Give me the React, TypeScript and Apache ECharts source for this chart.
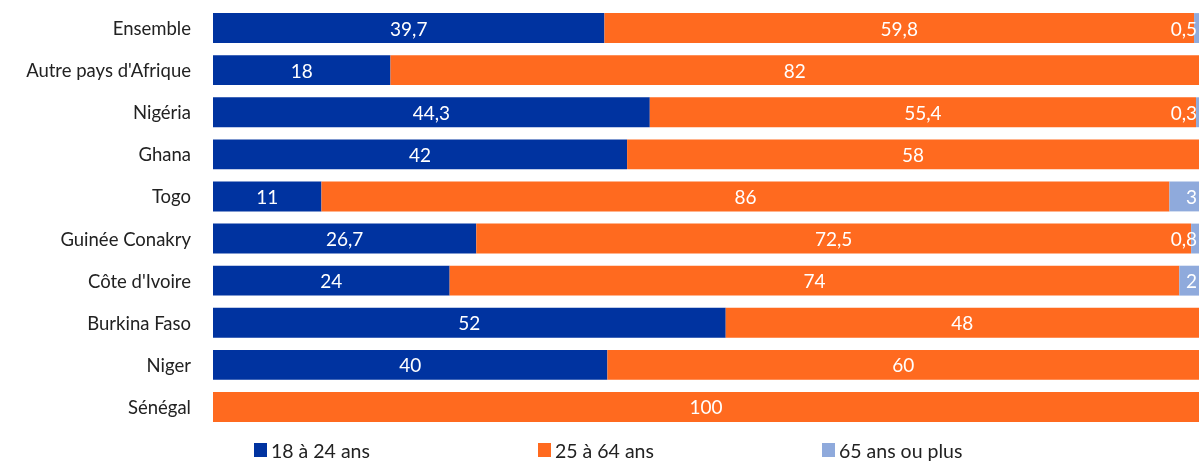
import React, { useEffect, useRef } from "react";
import * as echarts from "echarts";

const categories = [
  "Ensemble",
  "Autre pays d'Afrique",
  "Nigéria",
  "Ghana",
  "Togo",
  "Guinée Conakry",
  "Côte d'Ivoire",
  "Burkina Faso",
  "Niger",
  "Sénégal",
];
const age18to24 = [39.7, 18, 44.3, 42, 11, 26.7, 24, 52, 40, 0];
const age25to64 = [59.8, 82, 55.4, 58, 86, 72.5, 74, 48, 60, 100];
const age65plus = [0.5, 0, 0.3, 0, 3, 0.8, 2, 0, 0, 0];
const seriesNames = ["18 à 24 ans", "25 à 64 ans", "65 ans ou plus"];
const colors = ["#0033a0", "#ff6a1f", "#8faadc"];

const FONT = "Lato, 'Open Sans', sans-serif";

const fmt = (p: any) => (p.value ? String(p.value).replace(".", ",") : "");

export default function App() {
  const ref = useRef<HTMLDivElement>(null);
  useEffect(() => {
    if (!ref.current) return;
    const chart = echarts.init(ref.current, null, { renderer: "svg" });
    const label = {
      show: true,
      color: "#fff",
      fontSize: 19,
      fontFamily: FONT,
      formatter: fmt,
    };
    const datasets = [age18to24, age25to64, age65plus];
    chart.setOption({
      animation: false,
      grid: { left: 213, right: 1, top: 7, bottom: 36, containLabel: false },
      legend: seriesNames.map((n, i) => ({
        data: [n],
        left: [252, 536, 820][i],
        top: 438,
        padding: 2,
        icon: "rect",
        itemWidth: 13,
        itemHeight: 14,
        itemGap: 6,
        textStyle: {
          fontSize: 19.5,
          lineHeight: 20,
          fontFamily: FONT,
          color: "#222",
          padding: [0, 0, 0, -1],
        },
        selectedMode: false,
      })),
      xAxis: {
        type: "value",
        min: 0,
        max: 100,
        show: false,
      },
      yAxis: {
        type: "category",
        data: categories,
        inverse: true,
        axisLine: { show: false },
        axisTick: { show: false },
        axisLabel: { fontSize: 18.5, fontFamily: FONT, color: "#222", margin: 22 },
      },
      series: seriesNames.map((n, i) => ({
        name: n,
        type: "bar",
        stack: "total",
        data: datasets[i],
        barCategoryGap: "29%",
        itemStyle: { color: colors[i] },
        label:
          i === 2
            ? { ...label, position: "insideRight", distance: 2 }
            : { ...label, position: "inside" },
      })),
    });
    return () => chart.dispose();
  }, []);
  return (
    <div
      ref={ref}
      style={{ position: "fixed", left: 0, top: 0, width: 1200, height: 464 }}
    />
  );
}
